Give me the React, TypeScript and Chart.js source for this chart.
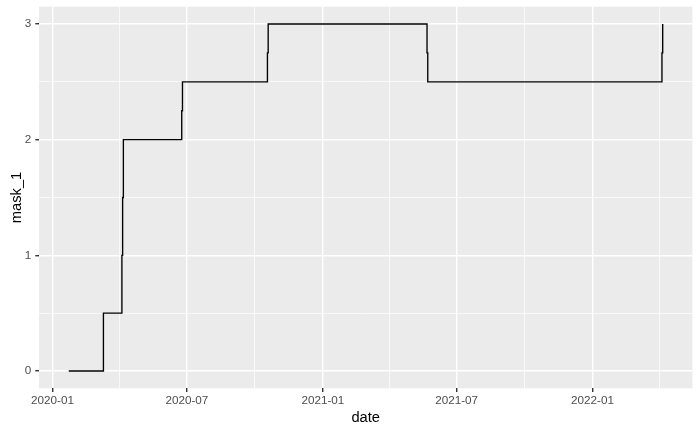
import { useEffect, useRef } from 'react';
import { Chart, registerables } from 'chart.js';

Chart.register(...registerables);

// ---- data ----
const dates: string[] = [
  '2020-01-23', '2020-03-10', '2020-04-04', '2020-04-05', '2020-04-06',
  '2020-06-24', '2020-06-25', '2020-10-18', '2020-10-19', '2021-05-22',
  '2021-05-23', '2022-04-05', '2022-04-06',
];
const mask1: number[] = [0, 0.5, 1, 1.5, 2, 2.25, 2.5, 2.75, 3, 2.75, 2.5, 2.75, 3];

const xBreakDates: string[] = ['2020-01-01', '2020-07-01', '2021-01-01', '2021-07-01', '2022-01-01'];
const xBreakLabels: string[] = ['2020-01', '2020-07', '2021-01', '2021-07', '2022-01'];
const xNextBreak = '2022-07-01';
const yBreaks: number[] = [0, 1, 2, 3];
const yBreakLabels: string[] = ['0', '1', '2', '3'];
const yMinorBreaks: number[] = [0.5, 1.5, 2.5];

const ORIGIN = Date.UTC(2020, 0, 1);
const toDay = (s: string) => {
  const [y, m, d] = s.split('-').map(Number);
  return (Date.UTC(y, m - 1, d) - ORIGIN) / 86400000;
};

const FONT = "'Liberation Sans', Arial, sans-serif";

export default function App() {
  const ref = useRef<HTMLCanvasElement | null>(null);

  useEffect(() => {
    document.body.style.margin = '0';
    const canvas = ref.current;
    if (!canvas) return;

    const xs = dates.map(toDay);
    const pts = xs.map((x, i) => ({ x, y: mask1[i] }));
    const xMinD = Math.min(...xs);
    const xMaxD = Math.max(...xs);
    const xr = xMaxD - xMinD;
    const xMin = xMinD - 0.05 * xr;
    const xMax = xMaxD + 0.05 * xr;
    const yMin = -0.15;
    const yMax = 3.15;

    const xMajor = xBreakDates.map(toDay);
    const allBreaks = [...xMajor, toDay(xNextBreak)];
    const xMinor: number[] = [];
    for (let i = 0; i < allBreaks.length - 1; i++) {
      const m = (allBreaks[i] + allBreaks[i + 1]) / 2;
      if (m >= xMin && m <= xMax) xMinor.push(m);
    }

    const isXMajor = (v: number) => xMajor.some((b) => Math.abs(b - v) < 1e-6);
    const isYMajor = (v: number) => yBreaks.some((b) => Math.abs(b - v) < 1e-6);

    const bgPlugin = {
      id: 'panelBg',
      beforeDraw(chart: any) {
        const { ctx, chartArea: a } = chart;
        ctx.save();
        ctx.fillStyle = '#FFFFFF';
        ctx.fillRect(0, 0, chart.width, chart.height);
        ctx.fillStyle = '#EBEBEB';
        ctx.fillRect(a.left, a.top, a.right - a.left, a.bottom - a.top);
        ctx.restore();
      },
    };

    const chart = new Chart(canvas, {
      type: 'line',
      data: {
        datasets: [
          {
            data: pts,
            stepped: true,
            borderColor: '#000000',
            borderWidth: 1.35,
            pointRadius: 0,
            fill: false,
            borderCapStyle: 'butt',
          } as any,
        ],
      },
      options: {
        responsive: false,
        animation: false,
        devicePixelRatio: 1,
        layout: { padding: { top: 6.65, right: 7.6, left: 0, bottom: 0 } },
        plugins: { legend: { display: false }, tooltip: { enabled: false } },
        scales: {
          x: {
            type: 'linear',
            min: xMin,
            max: xMax,
            afterBuildTicks: (scale: any) => {
              scale.ticks = [...xMajor, ...xMinor].sort((a, b) => a - b).map((v) => ({ value: v }));
            },
            afterFit: (scale: any) => {
              scale.height = 432 - 388.35;
              scale.paddingLeft = 0;
              scale.paddingRight = 0;
            },
            border: { display: false },
            grid: {
              color: '#FFFFFF',
              lineWidth: (ctx: any) => (isXMajor(ctx.tick?.value) ? 1.42 : 0.71),
              tickColor: (ctx: any) => (isXMajor(ctx.tick?.value) ? '#333333' : 'rgba(0,0,0,0)'),
              tickWidth: 1.42,
              tickLength: 3.67,
              drawTicks: true,
            },
            ticks: {
              autoSkip: false,
              maxRotation: 0,
              minRotation: 0,
              padding: 1.5,
              color: '#4D4D4D',
              font: { family: FONT, size: 11.7 },
              callback: (v: any) => {
                const i = xMajor.findIndex((b) => Math.abs(b - Number(v)) < 1e-6);
                return i >= 0 ? xBreakLabels[i] : '';
              },
            },
            title: {
              display: true,
              text: 'date',
              color: '#000000',
              font: { family: FONT, size: 14.7 },
              padding: { top: 0, bottom: 5 },
            },
          },
          y: {
            type: 'linear',
            min: yMin,
            max: yMax,
            afterBuildTicks: (scale: any) => {
              scale.ticks = [...yBreaks, ...yMinorBreaks].sort((a, b) => a - b).map((v) => ({ value: v }));
            },
            afterFit: (scale: any) => {
              scale.width = 39;
              scale.paddingTop = 0;
              scale.paddingBottom = 0;
            },
            border: { display: false },
            grid: {
              color: '#FFFFFF',
              lineWidth: (ctx: any) => (isYMajor(ctx.tick?.value) ? 1.42 : 0.71),
              tickColor: (ctx: any) => (isYMajor(ctx.tick?.value) ? '#333333' : 'rgba(0,0,0,0)'),
              tickWidth: 1.42,
              tickLength: 3.67,
              drawTicks: true,
            },
            ticks: {
              autoSkip: false,
              padding: 4,
              color: '#4D4D4D',
              font: { family: FONT, size: 11.7 },
              callback: (v: any) => {
                const i = yBreaks.findIndex((b) => Math.abs(b - Number(v)) < 1e-6);
                return i >= 0 ? yBreakLabels[i] : '';
              },
            },
            title: {
              display: true,
              text: 'mask_1',
              color: '#000000',
              font: { family: FONT, size: 14.7 },
              padding: { top: 8, bottom: 0 },
            },
          },
        },
      },
      plugins: [bgPlugin],
    });

    return () => chart.destroy();
  }, []);

  return (
    <div style={{ width: 700, height: 432 }}>
      <canvas ref={ref} width={700} height={432} style={{ display: 'block' }} />
    </div>
  );
}
